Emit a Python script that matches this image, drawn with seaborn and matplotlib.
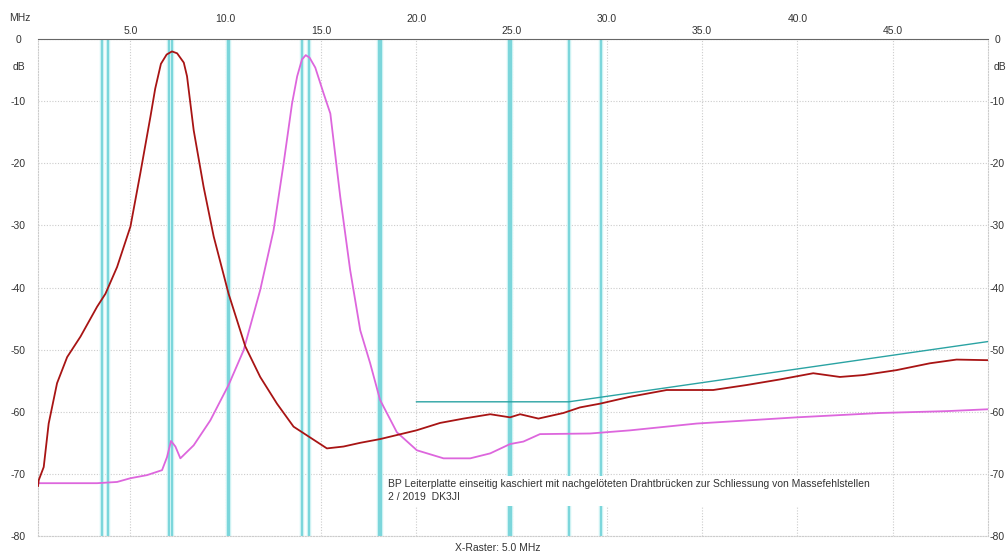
import numpy as np
import pandas as pd
import matplotlib
matplotlib.use("Agg")
import matplotlib.pyplot as plt
import seaborn as sns

# ---------------- data ----------------
red_freq = [0.15, 0.19, 0.45, 0.71, 1.15, 1.68, 2.38, 3.25, 3.69, 4.30, 5.00, 5.52, 6.05,
            6.30, 6.60, 6.90, 7.18, 7.45, 7.80, 7.97, 8.32, 8.84, 9.37, 10.15, 11.03, 11.81, 12.69,
            13.56, 14.26, 15.31, 16.18, 17.06, 18.10, 20.0, 21.25, 22.48, 23.88, 24.92,
            25.45, 26.41, 27.72, 28.59, 29.64, 31.2, 33.14, 35.58, 37.33, 39.08, 40.83,
            42.23, 43.45, 45.2, 46.95, 48.35, 50.0]
red_db = [-72.0, -71.0, -68.9, -61.9, -55.4, -51.2, -47.9, -43.1, -41.0, -36.7, -30.2, -21.6, -12.5,
          -8.0, -4.0, -2.5, -2.0, -2.3, -3.8, -6.0, -14.7, -23.8, -31.8, -41.0, -49.5, -54.4, -58.7,
          -62.4, -63.8, -65.9, -65.6, -65.0, -64.4, -63.0, -61.8, -61.1, -60.4, -60.9,
          -60.4, -61.1, -60.2, -59.3, -58.7, -57.6, -56.5, -56.5, -55.7, -54.8, -53.8,
          -54.4, -54.1, -53.3, -52.2, -51.6, -51.7]

mag_freq = [0.15, 1.5, 3.25, 4.3, 5.0, 5.87, 6.66, 6.92, 7.13, 7.36, 7.62, 8.32, 9.19, 10.15,
            10.94, 11.81, 12.51, 13.04, 13.48, 13.75, 14.0, 14.2, 14.4, 14.7, 15.13, 15.49, 16.01,
            16.53, 17.06, 17.58, 18.10, 18.98, 20.03, 21.43, 22.83, 23.88, 24.92, 25.62,
            26.49, 29.12, 31.2, 34.71, 39.96, 44.33, 47.83, 50.0]
mag_db = [-71.5, -71.5, -71.5, -71.3, -70.7, -70.2, -69.4, -67.3, -64.7, -65.6, -67.5, -65.4, -61.4, -55.7,
          -50.1, -40.4, -30.8, -20.0, -10.4, -6.0, -3.3, -2.6, -3.0, -4.6, -8.7, -12.0, -25.4,
          -37.2, -46.9, -52.2, -58.1, -63.3, -66.2, -67.5, -67.5, -66.7, -65.2, -64.8,
          -63.6, -63.5, -63.0, -61.9, -60.9, -60.2, -59.9, -59.6]

ref_freq = [20.0, 28.0, 50.0]
ref_db = [-58.4, -58.4, -48.7]

band_edges = [3.5, 3.8, 7.0, 7.2, 10.1, 10.15, 14.0, 14.35, 18.068, 18.168,
              24.89, 24.99, 28.0, 29.7]

y_ticks = [0, -10, -20, -30, -40, -50, -60, -70, -80]
x_major = [5, 15, 25, 35, 45]
x_minor = [10, 20, 30, 40]

note_text = ("BP Leiterplatte einseitig kaschiert mit nachgelöteten Drahtbrücken zur Schliessung von Massefehlstellen\n"
             "2 / 2019  DK3JI")

# ---------------- style ----------------
sns.set_theme(style="white")
plt.rcParams['font.family'] = ['Liberation Sans', 'DejaVu Sans']
FS = 7.5
TXT = '#333333'

W, H = 1008, 557
fig = plt.figure(figsize=(W / 100, H / 100), dpi=100)
L, R, T, B = 38, 988, 39, 536
ax = fig.add_axes([L / W, 1 - B / H, (R - L) / W, (B - T) / H])
ax.set_facecolor('white')

# band markers
for f in band_edges:
    ax.axvline(f, color='#cdf2f3', lw=3.2, zorder=1)
    ax.axvline(f, color='#7ad6db', lw=1.4, zorder=1.1)

red_df = pd.DataFrame({'f': red_freq, 'db': red_db})
mag_df = pd.DataFrame({'f': mag_freq, 'db': mag_db})
ref_df = pd.DataFrame({'f': ref_freq, 'db': ref_db})

sns.lineplot(data=mag_df, x='f', y='db', ax=ax, color='#dd66dd', lw=1.3,
             estimator=None, sort=False, zorder=3)
sns.lineplot(data=red_df, x='f', y='db', ax=ax, color='#a81414', lw=1.3,
             estimator=None, sort=False, zorder=4)
sns.lineplot(data=ref_df, x='f', y='db', ax=ax, color='#2aa3a3', lw=1.0,
             estimator=None, sort=False, zorder=3)

ax.set_xlim(0.15, 50)
ax.set_ylim(-80, 0)
ax.set_xlabel('')
ax.set_ylabel('')

# ticks / grid
ax.set_xticks(x_major)
ax.set_xticks(x_minor, minor=True)
ax.set_xticklabels([f"{v:.1f}" for v in x_major], fontsize=FS, color=TXT)
ax.set_xticklabels([f"{v:.1f}" for v in x_minor], minor=True, fontsize=FS, color=TXT)
ax.xaxis.tick_top()
ax.tick_params(axis='x', which='both', length=0, top=True, bottom=False,
               labeltop=True, labelbottom=False)
ax.tick_params(axis='x', which='major', pad=2.4)
ax.tick_params(axis='x', which='minor', pad=11.0)

ax.set_yticks(y_ticks)
ax.set_yticklabels([str(v) for v in y_ticks], fontsize=FS, color=TXT)
ax.tick_params(axis='y', length=0, pad=14.4)
for lab in ax.get_yticklabels():
    lab.set_horizontalalignment('center')

ax.grid(True, which='both', axis='x', color='#cccccc', lw=0.8, ls=(0, (1, 1.5)), zorder=0)
ax.grid(True, which='major', axis='y', color='#cccccc', lw=0.8, ls=(0, (1, 1.5)), zorder=0)

for side in ['left', 'right', 'bottom']:
    ax.spines[side].set_color('#cccccc')
    ax.spines[side].set_linestyle((0, (1, 1.5)))
    ax.spines[side].set_linewidth(0.8)
ax.spines['top'].set_color('#666666')
ax.spines['top'].set_linestyle((0, (1, 1)))
ax.spines['top'].set_linewidth(0.8)

# right labels
ax2 = ax.twinx()
ax2.set_ylim(-80, 0)
ax2.set_yticks(y_ticks)
ax2.set_yticklabels([str(v) for v in y_ticks], fontsize=FS, color=TXT)
ax2.tick_params(axis='y', length=0, pad=6.5)
for lab in ax2.get_yticklabels():
    lab.set_horizontalalignment('center')
for s in ax2.spines.values():
    s.set_visible(False)
ax2.grid(False)

# annotation
ax.text(18.5, -70.9, note_text, fontsize=FS, color=TXT, ha='left', va='top',
        linespacing=1.35, zorder=6,
        bbox=dict(facecolor='white', edgecolor='none', pad=2.5))

fig.text(19.5 / W, 1 - 18 / H, 'MHz', fontsize=FS, color=TXT, ha='center', va='center')
fig.text(19 / W, 1 - 67 / H, 'dB', fontsize=FS, color=TXT, ha='center', va='center')
fig.text(1000 / W, 1 - 67 / H, 'dB', fontsize=FS, color=TXT, ha='center', va='center')
fig.text(498 / W, 1 - 548 / H, 'X-Raster: 5.0 MHz', fontsize=FS, color=TXT, ha='center', va='center')

fig.savefig('out.png', dpi=100, facecolor='white')
